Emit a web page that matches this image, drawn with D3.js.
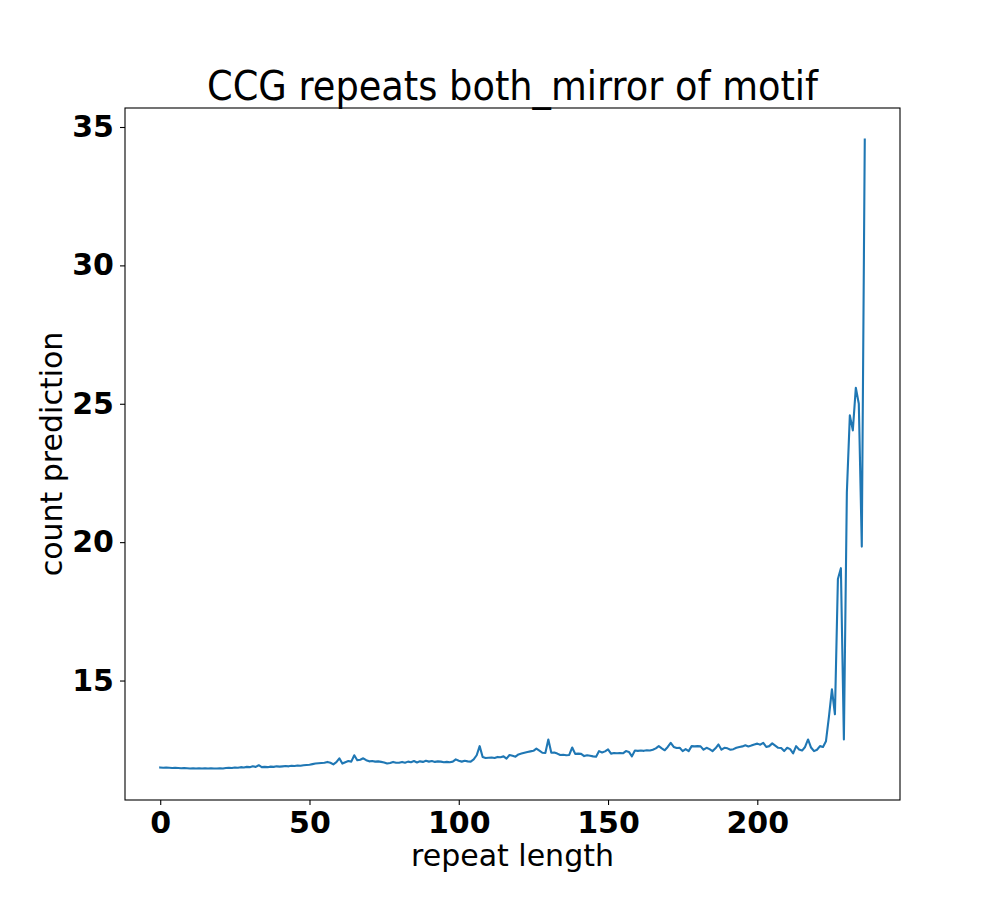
<!DOCTYPE html>
<html>
<head>
<meta charset="utf-8">
<script src="https://cdn.jsdelivr.net/npm/d3@7"></script>
<style>
  body { margin: 0; background: #fff; }
  svg { display: block; }
</style>
</head>
<body>
<svg width="1000" height="900"></svg>
<script>
// count prediction per repeat length (index = repeat length)
var prediction = [
  11.86, 11.85, 11.86, 11.85, 11.84, 11.85, 11.84, 11.83, 11.84, 11.83,
  11.82, 11.83, 11.82, 11.83, 11.82, 11.83, 11.82, 11.83, 11.82, 11.82,
  11.83, 11.82, 11.84, 11.85, 11.84, 11.86, 11.85, 11.87, 11.86, 11.88,
  11.87, 11.90, 11.88, 11.94, 11.87, 11.88, 11.87, 11.89, 11.88, 11.90,
  11.89, 11.90, 11.91, 11.90, 11.92, 11.91, 11.93, 11.92, 11.94, 11.95,
  11.96, 11.98, 12.00, 12.01, 12.02, 12.03, 12.06, 12.03, 11.97, 12.05,
  12.19, 12.00, 12.05, 12.09, 12.07, 12.30, 12.12, 12.14, 12.19, 12.12,
  12.08, 12.09, 12.07, 12.08, 12.06, 12.04, 12.00, 12.02, 12.06, 12.03,
  12.03, 12.06, 12.03, 12.07, 12.05, 12.09, 12.04, 12.08, 12.06, 12.10,
  12.07, 12.09, 12.06, 12.08, 12.07, 12.05, 12.06, 12.05, 12.07, 12.15,
  12.10, 12.07, 12.10, 12.08, 12.07, 12.15, 12.30, 12.63, 12.24, 12.20,
  12.21, 12.22, 12.20, 12.24, 12.23, 12.26, 12.18, 12.31, 12.28, 12.25,
  12.33, 12.36, 12.39, 12.42, 12.44, 12.46, 12.54, 12.47, 12.39, 12.38,
  12.87, 12.39, 12.40, 12.36, 12.31, 12.32, 12.30, 12.31, 12.58, 12.35,
  12.36, 12.35, 12.27, 12.30, 12.28, 12.26, 12.25, 12.45, 12.40, 12.44,
  12.51, 12.36, 12.38, 12.37, 12.38, 12.37, 12.45, 12.42, 12.26, 12.47,
  12.46, 12.47, 12.46, 12.48, 12.47, 12.50, 12.55, 12.63, 12.55, 12.48,
  12.60, 12.75, 12.60, 12.56, 12.57, 12.45, 12.52, 12.45, 12.63, 12.62,
  12.63, 12.62, 12.50, 12.57, 12.52, 12.45, 12.55, 12.69, 12.50, 12.57,
  12.55, 12.50, 12.52, 12.57, 12.60, 12.62, 12.66, 12.62, 12.65, 12.69,
  12.72, 12.68, 12.75, 12.60, 12.63, 12.73, 12.65, 12.57, 12.56, 12.45,
  12.57, 12.52, 12.37, 12.63, 12.51, 12.47, 12.60, 12.87, 12.58, 12.45,
  12.50, 12.63, 12.60, 12.81, 13.70, 14.68, 13.78, 18.67, 19.06, 12.87,
  21.80, 24.58, 24.04, 25.58, 25.00, 19.84, 34.55
];
var repeatLength = d3.range(prediction.length);
var xTicks = [0, 50, 100, 150, 200];
var yTicks = [15, 20, 25, 30, 35];

var svg = d3.select("svg"),
  margin = {top: 108, right: 100, bottom: 100, left: 125},
  width = 1000 - margin.left - margin.right,
  height = 900 - margin.top - margin.bottom,
  g = svg.append("g").attr("transform", "translate(" + margin.left + "," + margin.top + ")");

// matplotlib-like 5% margins
var xExt = d3.extent(repeatLength), xPad = (xExt[1] - xExt[0]) * 0.05;
var yExt = d3.extent(prediction), yPad = (yExt[1] - yExt[0]) * 0.05;

var x = d3.scaleLinear().domain([xExt[0] - xPad, xExt[1] + xPad]).range([0, width]);
var y = d3.scaleLinear().domain([yExt[0] - yPad, yExt[1] + yPad]).range([height, 0]);

var line = d3.line()
    .x(function(d, i) { return x(repeatLength[i]); })
    .y(function(d) { return y(d); });

g.append("path")
    .datum(prediction)
    .attr("fill", "none")
    .attr("stroke", "#1f77b4")
    .attr("stroke-width", 2.1)
    .attr("stroke-linejoin", "round")
    .attr("stroke-linecap", "square")
    .attr("d", line);

var xAxis = g.append("g")
    .attr("transform", "translate(0," + height + ")")
    .call(d3.axisBottom(x).tickValues(xTicks).tickSize(5).tickPadding(7).tickFormat(d3.format("d")));
var yAxis = g.append("g")
    .call(d3.axisLeft(y).tickValues(yTicks).tickSize(5).tickPadding(6).tickFormat(d3.format("d")));

[xAxis, yAxis].forEach(function(a) {
  a.select(".domain").remove();
  a.selectAll("line").attr("stroke", "#000").attr("stroke-width", 1.1);
  a.selectAll("text")
    .attr("fill", "#000")
    .style("font-family", "'DejaVu Sans', sans-serif")
    .style("font-weight", "bold")
    .style("font-size", "30px");
});

// frame
g.append("rect")
    .attr("width", width)
    .attr("height", height)
    .attr("fill", "none")
    .attr("stroke", "#000")
    .attr("stroke-width", 1.1);

svg.append("text")
    .attr("x", margin.left + width / 2)
    .attr("y", 866)
    .attr("text-anchor", "middle")
    .style("font-family", "'DejaVu Sans', sans-serif")
    .style("font-size", "30px")
    .text("repeat length");

svg.append("text")
    .attr("transform", "translate(62," + (margin.top + height / 2) + ") rotate(-90)")
    .attr("text-anchor", "middle")
    .style("font-family", "'DejaVu Sans', sans-serif")
    .style("font-size", "30px")
    .text("count prediction");

svg.append("text")
    .attr("x", margin.left + width / 2)
    .attr("y", 100)
    .attr("text-anchor", "middle")
    .attr("textLength", 611)
    .attr("lengthAdjust", "spacingAndGlyphs")
    .style("font-family", "'DejaVu Sans', sans-serif")
    .style("font-size", "40px")
    .text("CCG repeats both_mirror of motif");
</script>
</body>
</html>
